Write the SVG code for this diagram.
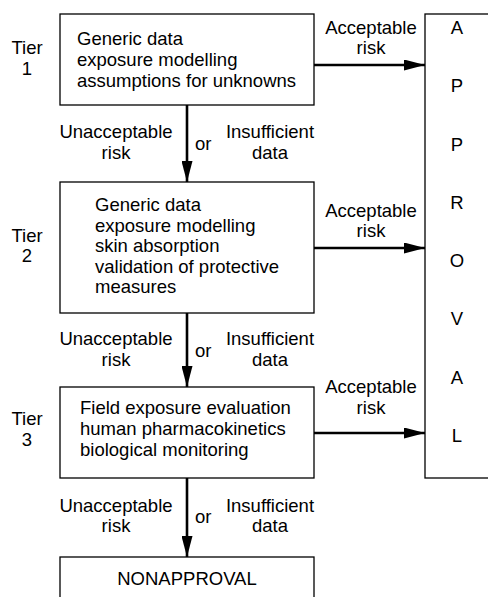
<svg xmlns="http://www.w3.org/2000/svg" width="488" height="597" viewBox="0 0 488 597">
  <style>
    text { font-family: "Liberation Sans", Arial, sans-serif; font-size: 18.5px; fill: #000; }
    .c { text-anchor: middle; }
    .box { fill: #fff; stroke: #000; stroke-width: 1.3; }
    .arrow { fill: none; stroke: #000; stroke-width: 2.6; marker-end: url(#head); }
  </style>
  <defs>
    <marker id="head" markerUnits="userSpaceOnUse" markerWidth="21" markerHeight="11" refX="21" refY="5.5" orient="auto">
      <path d="M0,0 L21,5.5 L0,11 Z" fill="#000"/>
    </marker>
  </defs>
  <rect width="488" height="597" fill="#fff"/>

  <!-- tier labels -->
  <g id="tier1-label">
    <text class="c" x="27" y="54">Tier</text>
    <text class="c" x="27" y="75">1</text>
  </g>
  <g id="tier2-label">
    <text class="c" x="27" y="242">Tier</text>
    <text class="c" x="27" y="262">2</text>
  </g>
  <g id="tier3-label">
    <text class="c" x="27" y="425">Tier</text>
    <text class="c" x="27" y="446">3</text>
  </g>

  <g id="tier1">
    <rect class="box" x="60" y="14" width="254" height="91"/>
    <text x="77" y="45">Generic data</text>
    <text x="77" y="66">exposure modelling</text>
    <text x="77" y="87">assumptions for unknowns</text>
  </g>

  <g id="tier2">
    <rect class="box" x="60" y="182" width="254" height="131"/>
    <text x="95" y="211">Generic data</text>
    <text x="95" y="232">exposure modelling</text>
    <text x="95" y="252">skin absorption</text>
    <text x="95" y="273">validation of protective</text>
    <text x="95" y="293">measures</text>
  </g>

  <g id="tier3">
    <rect class="box" x="60" y="387" width="254" height="91"/>
    <text x="80" y="414">Field exposure evaluation</text>
    <text x="80" y="435">human pharmacokinetics</text>
    <text x="80" y="456">biological monitoring</text>
  </g>

  <g id="nonapproval">
    <rect class="box" x="60" y="557" width="254" height="50"/>
    <text class="c" x="187" y="585">NONAPPROVAL</text>
  </g>

  <g id="approval">
    <rect class="box" x="425" y="14" width="80" height="464"/>
    <text class="c" x="457" y="34">A</text>
    <text class="c" x="457" y="92">P</text>
    <text class="c" x="457" y="151">P</text>
    <text class="c" x="457" y="209">R</text>
    <text class="c" x="457" y="267">O</text>
    <text class="c" x="457" y="325">V</text>
    <text class="c" x="457" y="384">A</text>
    <text class="c" x="457" y="442">L</text>
  </g>

  <g id="connectors">
    <!-- downward escalation -->
    <line class="arrow" x1="187" y1="105" x2="187" y2="182"/>
    <line class="arrow" x1="187" y1="313" x2="187" y2="387"/>
    <line class="arrow" x1="187" y1="478" x2="187" y2="557"/>
    <!-- acceptable risk to approval -->
    <line class="arrow" x1="314" y1="65" x2="425" y2="65"/>
    <line class="arrow" x1="314" y1="248" x2="425" y2="248"/>
    <line class="arrow" x1="314" y1="433" x2="425" y2="433"/>

    <g id="labels-down-1">
      <text class="c" x="116" y="138">Unacceptable</text>
      <text class="c" x="116" y="159">risk</text>
      <text x="195" y="150">or</text>
      <text class="c" x="270" y="138">Insufficient</text>
      <text class="c" x="270" y="159">data</text>
    </g>
    <g id="labels-down-2">
      <text class="c" x="116" y="345">Unacceptable</text>
      <text class="c" x="116" y="366">risk</text>
      <text x="195" y="357">or</text>
      <text class="c" x="270" y="345">Insufficient</text>
      <text class="c" x="270" y="366">data</text>
    </g>
    <g id="labels-down-3">
      <text class="c" x="116" y="512">Unacceptable</text>
      <text class="c" x="116" y="532">risk</text>
      <text x="195" y="523">or</text>
      <text class="c" x="270" y="512">Insufficient</text>
      <text class="c" x="270" y="532">data</text>
    </g>
    <g id="labels-right">
      <text class="c" x="371" y="34">Acceptable</text>
      <text class="c" x="371" y="54">risk</text>
      <text class="c" x="371" y="217">Acceptable</text>
      <text class="c" x="371" y="237">risk</text>
      <text class="c" x="371" y="393">Acceptable</text>
      <text class="c" x="371" y="414">risk</text>
    </g>
  </g>
</svg>
